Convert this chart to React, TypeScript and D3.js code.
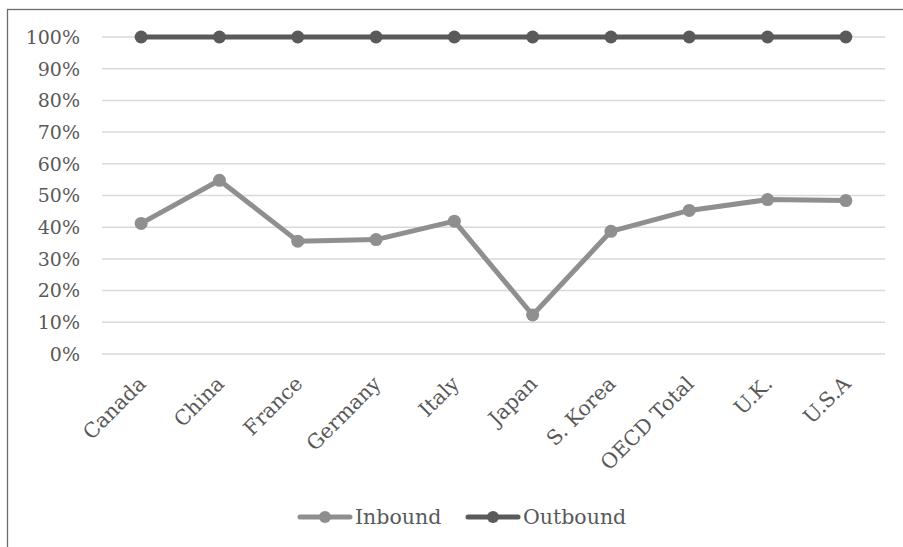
import React from "react";
import * as d3 from "d3";

const categories = ["Canada", "China", "France", "Germany", "Italy", "Japan", "S. Korea", "OECD Total", "U.K.", "U.S.A"];
const inbound = [0.412, 0.548, 0.356, 0.361, 0.419, 0.123, 0.387, 0.453, 0.487, 0.484];
const outbound = [1, 1, 1, 1, 1, 1, 1, 1, 1, 1];
const yTicks = [0, 0.1, 0.2, 0.3, 0.4, 0.5, 0.6, 0.7, 0.8, 0.9, 1];
const seriesNames = ["Inbound", "Outbound"];

const W = 903;
const H = 547;
const FONT = "'DejaVu Serif', serif";
const TEXT = "#595959";
const C_IN = "#8f8f8f";
const C_OUT = "#5a5a5a";

export default function App() {
  const x = d3.scaleBand<string>().domain(categories).range([102, 885]);
  const y = d3.scaleLinear().domain([0, 1]).range([354, 37]);
  const cx = (c: string) => (x(c) ?? 0) + x.bandwidth() / 2;
  const line = d3
    .line<number>()
    .x((_, i) => cx(categories[i]))
    .y((v) => y(v));
  const fmt = d3.format(".0%");
  const series = [
    { name: seriesNames[0], data: inbound, color: C_IN },
    { name: seriesNames[1], data: outbound, color: C_OUT },
  ];
  const legend = [
    { name: seriesNames[0], color: C_IN, x0: 300 },
    { name: seriesNames[1], color: C_OUT, x0: 468 },
  ];
  return (
    <svg width={W} height={H} style={{ position: "fixed", left: 0, top: 0, background: "#fff" }}>
      <rect x={7.5} y={9.5} width={W} height={H} fill="#fff" stroke="#6b6b6b" strokeWidth={1.3} />
      {yTicks.map((t) => (
        <g key={t}>
          <line x1={102} x2={885} y1={y(t)} y2={y(t)} stroke="#d9d9d9" strokeWidth={1.5} />
          <text x={80} y={y(t)} dy="0.36em" textAnchor="end" fontFamily={FONT} fontSize={19} fill={TEXT}>
            {fmt(t)}
          </text>
        </g>
      ))}
      {categories.map((c) => (
        <text
          key={c}
          transform={`translate(${cx(c) + 6},${385}) rotate(-45)`}
          textAnchor="end"
          fontFamily={FONT}
          fontSize={20.5}
          fill={TEXT}
        >
          {c}
        </text>
      ))}
      {series.map((s) => (
        <g key={s.name}>
          <path d={line(s.data) ?? ""} fill="none" stroke={s.color} strokeWidth={5} strokeLinejoin="round" />
          {s.data.map((v, i) => (
            <circle key={i} cx={cx(categories[i])} cy={y(v)} r={6.5} fill={s.color} />
          ))}
        </g>
      ))}
      {legend.map((l) => (
        <g key={l.name}>
          <line x1={l.x0} x2={l.x0 + 50} y1={517} y2={517} stroke={l.color} strokeWidth={5} strokeLinecap="round" />
          <circle cx={l.x0 + 25} cy={517} r={6} fill={l.color} />
          <text x={l.x0 + 55} y={517} dy="0.36em" fontFamily={FONT} fontSize={20.5} fill={TEXT}>
            {l.name}
          </text>
        </g>
      ))}
    </svg>
  );
}
